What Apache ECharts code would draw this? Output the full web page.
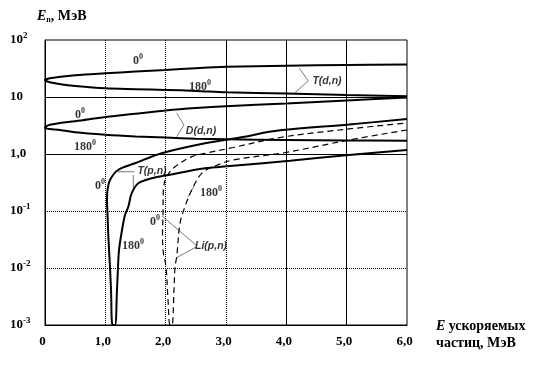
<!DOCTYPE html>
<html><head><meta charset="utf-8">
<script src="https://cdn.jsdelivr.net/npm/echarts@6/dist/echarts.min.js"></script>
<style>html,body{margin:0;padding:0;background:#fff}#c{width:554px;height:367px}</style>
</head><body><div id="c"></div>
<script>
// ---------------- data ----------------
const xTickLabels = ['0', '1,0', '2,0', '3,0', '4,0', '5,0', '6,0'];
const yTickValues = [0.001, 0.01, 0.1, 1, 10, 100];
const yTickBase = ['10', '10', '10', '1,0', '10', '10'];
const yTickExp = ['-3', '-2', '-1', '', '', '2'];

// T(d,n): energy of accelerated particles (MeV) and neutron energy (MeV)
const E_Td = [0, 0.02, 0.08, 0.26, 0.5, 1.0, 1.5, 2.0, 2.5, 3.0, 4.0, 5.0, 6.0];
const Td_0 = [19.8, 20.5, 21.3, 22.7, 24.0, 26.0, 28.0, 29.8, 32.0, 33.8, 35.5, 36.5, 37.0];
const Td_180 = [19.8, 19.1, 18.1, 16.7, 15.6, 14.2, 13.7, 13.3, 12.8, 12.1, 11.5, 10.8, 10.3];

// D(d,n)
const E_Dd = [0, 0.02, 0.08, 0.25, 0.5, 1.0, 1.5, 2.0, 2.5, 3.0, 4.0, 5.0, 6.0];
const Dd_0 = [2.9, 3.05, 3.25, 3.5, 3.75, 4.45, 5.1, 5.8, 6.4, 6.9, 7.7, 8.7, 9.8];
const Dd_180 = [2.9, 2.82, 2.74, 2.64, 2.4, 2.17, 2.03, 1.94, 1.86, 1.81, 1.76, 1.73, 1.71];

// T(p,n)
const E_Tp_0 = [1.119, 1.094, 1.077, 1.053, 1.033, 1.028, 1.036, 1.077, 1.21, 1.492, 1.934, 2.652, 3.232, 3.895, 5.039, 6.0];
const Tp_0 = [0.001, 0.0041, 0.0104, 0.031, 0.104, 0.156, 0.233, 0.35, 0.524, 0.687, 1.03, 1.54, 1.95, 2.6, 3.3, 4.1];
const E_Tp_180 = [1.16, 1.193, 1.21, 1.227, 1.276, 1.326, 1.381, 1.437, 1.547, 1.769, 2.044, 2.652, 3.066, 4.061, 5.039, 6.0];
const Tp_180 = [0.001, 0.0041, 0.0104, 0.0207, 0.046, 0.085, 0.119, 0.205, 0.306, 0.375, 0.429, 0.561, 0.615, 0.762, 0.96, 1.17];

// Li(p,n)
const E_Li_0 = [2.072, 2.039, 2.006, 1.956, 1.948, 1.956, 1.961, 2.017, 2.155, 2.432, 2.652, 3.121, 3.895, 5.039, 6.0];
const Li_0 = [0.001, 0.00275, 0.0104, 0.0207, 0.046, 0.079, 0.233, 0.40, 0.598, 0.90, 1.03, 1.3, 1.95, 2.75, 3.5];
const E_Li_180 = [2.105, 2.138, 2.155, 2.183, 2.238, 2.32, 2.432, 2.597, 2.818, 3.116, 3.978, 5.039, 6.0];
const Li_180 = [0.001, 0.0041, 0.0104, 0.0158, 0.061, 0.119, 0.233, 0.458, 0.615, 0.785, 1.06, 1.76, 2.64];

// annotations (anchored in data coordinates)
const annE = [1.54, 2.57, 0.58, 0.663, 0.912, 1.459, 1.823, 2.752, 1.774, 2.586, 4.674, 2.752];
const annV = [42.8, 15.0, 4.83, 1.33, 0.275, 0.0243, 0.0641, 0.207, 0.503, 2.53, 19.1, 0.0238];
const annBase = ['0', '180', '0', '180', '0', '180', '0', '180', 'T(p,n)', 'D(d,n)', 'T(d,n)', 'Li(p,n)'];
const annSup = ['0', '0', '0', '0', '0', '0', '0', '0', '', '', '', ''];

// leader lines (data coordinates)
const leaderTd_E = [4.215, 4.364, 4.144];
const leaderTd_V = [31.9, 19.3, 11.9];
const leaderDd_E = [2.183, 2.304, 2.183];
const leaderDd_V = [5.18, 3.23, 2.01];
const leaderTp1_E = [1.205, 1.48];
const leaderTp1_V = [0.489, 0.489];
const leaderTp2_E = [1.464, 1.464];
const leaderTp2_V = [0.428, 0.2535];
const leaderLi1_E = [1.939, 2.503];
const leaderLi1_V = [0.0817, 0.0253];
const leaderLi2_E = [2.171, 2.503];
const leaderLi2_V = [0.01497, 0.0233];
const leaderLi3_E = [2.37, 2.47];
const leaderLi3_V = [0.176, 0.275];

// grid lines
const solidX = [4, 5];
const dottedX = [1, 2];
const solidY = [10, 1];
const dottedY = [0.1, 0.01];

// ---------------- build ----------------
const pairs = (E, V) => E.map((e, i) => [e, V[i]]);
const loop = (E1, V180, E0, V0) => pairs(E1, V180).reverse().concat(pairs(E0, V0));

const SERIF = '"Liberation Serif", "Times New Roman", serif';
const SANS = '"Liberation Sans", Arial, sans-serif';

const dotted = { color: '#000', width: 1, type: [1, 1] };
const solid = { color: '#000', width: 1, type: 'solid' };

const markData = [];
solidX.forEach(v => markData.push({ xAxis: v, lineStyle: solid }));
dottedX.forEach(v => markData.push({ xAxis: v, lineStyle: dotted }));
solidY.forEach(v => markData.push({ yAxis: v, lineStyle: solid }));
dottedY.forEach(v => markData.push({ yAxis: v, lineStyle: dotted }));
markData.push([{ coord: [3, 100], lineStyle: solid }, { coord: [3, 1] }]);
markData.push([{ coord: [3, 1], lineStyle: dotted }, { coord: [3, 0.001] }]);

const curve = (name, data, dashed, width) => ({
  name, type: 'line', data, smooth: 0.35, symbol: 'none', z: 5,
  lineStyle: { color: '#000', width: width, type: dashed ? [6, 4] : 'solid' },
  silent: true, animation: false
});
const leader = (E, V) => ({
  type: 'line', data: pairs(E, V), symbol: 'none', smooth: false, z: 4,
  lineStyle: { color: '#7a7a7a', width: 1 }, silent: true, animation: false
});

const annData = annE.map((e, i) => ({
  value: [e, annV[i]],
  label: {
    formatter: annSup[i] ? '{b|' + annBase[i] + '}{s|' + annSup[i] + '}' : '{n|' + annBase[i] + '}'
  }
}));

const chart = echarts.init(document.getElementById('c'), null, { renderer: 'canvas' });
chart.setOption({
  animation: false,
  backgroundColor: '#fff',
  grid: { left: 45, right: 147, top: 40, bottom: 42, show: true, borderColor: '#000', borderWidth: 1 },
  xAxis: {
    type: 'value', min: 0, max: 6, interval: 1,
    axisLine: { show: true, onZero: false, lineStyle: { color: '#000', width: 1 } },
    axisTick: { show: false }, splitLine: { show: false },
    axisLabel: {
      margin: 10, color: '#000', fontFamily: SERIF, fontWeight: 'bold', fontSize: 13,
      padding: [0, 5, 0, 0],
      formatter: v => xTickLabels[Math.round(v)]
    }
  },
  yAxis: {
    type: 'log', logBase: 10, min: 0.001, max: 100,
    axisLine: { show: true, lineStyle: { color: '#000', width: 1 } },
    axisTick: { show: false }, splitLine: { show: false }, minorSplitLine: { show: false },
    axisLabel: {
      margin: 35, align: 'left', color: '#000',
      formatter: v => {
        const i = yTickValues.findIndex(t => Math.abs(Math.log10(t) - Math.log10(v)) < 1e-6);
        if (i < 0) return '';
        return yTickExp[i] ? '{b|' + yTickBase[i] + '}{s|' + yTickExp[i] + '}' : '{b|' + yTickBase[i] + '}';
      },
      rich: {
        b: { fontFamily: SERIF, fontWeight: 'bold', fontSize: 13, color: '#000' },
        s: { fontFamily: SERIF, fontWeight: 'bold', fontSize: 9, color: '#000', padding: [0, 0, 9, 0] }
      }
    }
  },
  graphic: [
    {
      type: 'text', left: 37, top: 9, silent: true,
      style: {
        text: '{e|E}{n|n}{b|, МэВ}',
        rich: {
          e: { fontFamily: SERIF, fontStyle: 'italic', fontWeight: 'bold', fontSize: 14, fill: '#000' },
          n: { fontFamily: SERIF, fontWeight: 'bold', fontSize: 8, fill: '#000', padding: [8, 0, 0, 0] },
          b: { fontFamily: SERIF, fontWeight: 'bold', fontSize: 14, fill: '#000' }
        }
      }
    },
    {
      type: 'text', left: 436, top: 318, silent: true,
      style: {
        text: '{e|E} {b|ускоряемых}\n{b|частиц, МэВ}',
        lineHeight: 17,
        rich: {
          e: { fontFamily: SERIF, fontStyle: 'italic', fontWeight: 'bold', fontSize: 14, fill: '#000', lineHeight: 17 },
          b: { fontFamily: SERIF, fontWeight: 'bold', fontSize: 14, fill: '#000', lineHeight: 17 }
        }
      }
    }
  ],
  series: [
    {
      type: 'line', data: [], silent: true, z: 1, symbol: 'none',
      markLine: { silent: true, symbol: ['none', 'none'], label: { show: false }, animation: false, data: markData }
    },
    curve('T(d,n)', loop(E_Td, Td_180, E_Td, Td_0), false, 2),
    curve('D(d,n)', loop(E_Dd, Dd_180, E_Dd, Dd_0), false, 2),
    curve('T(p,n)', loop(E_Tp_180, Tp_180, E_Tp_0, Tp_0), false, 2),
    curve('Li(p,n)', loop(E_Li_180, Li_180, E_Li_0, Li_0), true, 1.2),
    leader(leaderTd_E, leaderTd_V),
    leader(leaderDd_E, leaderDd_V),
    leader(leaderTp1_E, leaderTp1_V),
    leader(leaderTp2_E, leaderTp2_V),
    leader(leaderLi1_E, leaderLi1_V),
    leader(leaderLi2_E, leaderLi2_V),
    leader(leaderLi3_E, leaderLi3_V),
    {
      type: 'scatter', data: annData, symbolSize: 1, z: 6, silent: true,
      itemStyle: { color: 'rgba(0,0,0,0)' },
      label: {
        show: true, position: 'inside', color: '#000',
        rich: {
          b: { fontFamily: SERIF, fontWeight: 'bold', fontSize: 12, color: '#000' },
          s: { fontFamily: SERIF, fontWeight: 'bold', fontSize: 8, color: '#000', padding: [0, 0, 9, 0] },
          n: { fontFamily: SANS, fontStyle: 'italic', fontWeight: 'bold', fontSize: 10.5, color: '#000' }
        }
      }
    }
  ]
});
</script>
</body></html>
